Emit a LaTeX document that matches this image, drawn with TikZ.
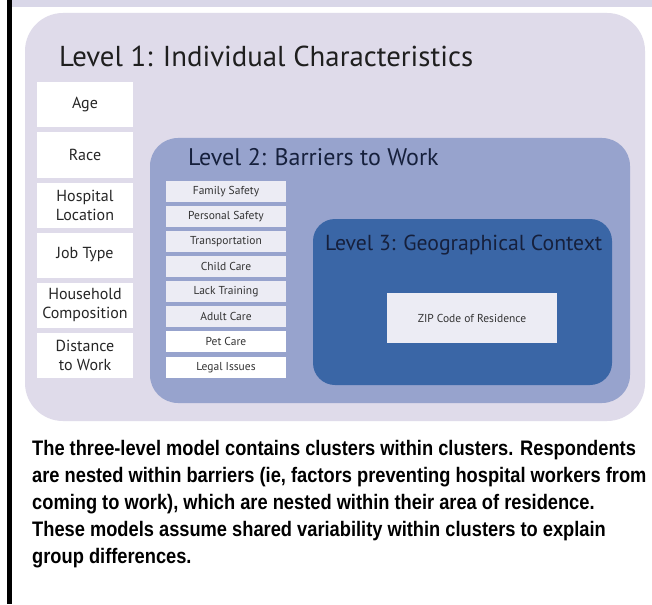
\documentclass[tikz,border=0pt]{standalone}
\usepackage{fontspec}
\setmainfont{PT Sans}
\newfontfamily\capfont[FakeStretch=0.87]{Liberation Sans}
\usetikzlibrary{positioning}
\definecolor{band}{RGB}{217,215,232}
\definecolor{lvlone}{RGB}{223,219,234}
\definecolor{lvltwo}{RGB}{151,163,205}
\definecolor{lvlthree}{RGB}{58,102,166}
\definecolor{itemfill}{RGB}{236,236,244}
\definecolor{navy}{RGB}{22,32,60}
\tikzstyle{title}=[anchor=base west, inner sep=0]
\tikzstyle{charbox}=[rectangle, fill=white, minimum width=96pt, minimum height=45pt, inner sep=0, align=center, text=black!85, font=\fontsize{16}{19}\selectfont]
\tikzstyle{barbox}=[rectangle, fill=itemfill, minimum width=120pt, minimum height=21pt, inner sep=0, text=black!80, font=\fontsize{11.5}{13}\selectfont]
\begin{document}
\begin{tikzpicture}[x=1pt,y=-1pt]
\useasboundingbox (0,0) rectangle (652,604);
\fill[white] (0,0) rectangle (652,604);
\fill[band] (12,0) rectangle (652,7);
\fill[black] (7,0) rectangle (12,604);

% level 1
\fill[lvlone, rounded corners=38pt] (25,13) rectangle (645,421);
\node[title, text=black!88, font=\fontsize{28.8}{31}\selectfont] (t1) at (59,67) {Level 1: Individual Characteristics};
\foreach \txt [count=\i] in {Age, Race, Hospital\\Location, Job Type, Household\\Composition, Distance\\to Work}
  \node[charbox] (char\i) at (85,{105+50*(\i-1)}) {\txt};

% level 2
\fill[lvltwo, rounded corners=28pt] (150,138) rectangle (630,403);
\node[title, text=navy, font=\fontsize{24}{26}\selectfont] (t2) at (188,165) {Level 2: Barriers to Work};
\foreach \txt [count=\i] in {Family Safety, Personal Safety, Transportation, Child Care, Lack Training, Adult Care}
  \node[barbox] (bar\i) at (226,{191.5+25*(\i-1)}) {\txt};
\node[barbox, fill=white, below=4pt of bar6] (bar7) {Pet Care};
\node[barbox, fill=white, below=4pt of bar7] (bar8) {Legal Issues};

% level 3
\fill[lvlthree, rounded corners=22pt] (313,219) rectangle (612,385);
\node[title, text=navy, font=\fontsize{21.7}{24}\selectfont] (t3) at (325,250) {Level 3: Geographical Context};
\node[barbox, minimum width=170pt, minimum height=50pt] (zip) at (472,318) {ZIP Code of Residence};

% caption
\node[anchor=base west, inner sep=0, align=left, font=\capfont\bfseries\fontsize{21}{27}\selectfont] (cap) at (32,563)
  {The three-level model contains clusters within clusters. Respondents\\
   are nested within barriers (ie, factors preventing hospital workers from\\
   coming to work), which are nested within their area of residence.\\
   These models assume shared variability within clusters to explain\\
   group differences.};
\end{tikzpicture}
\end{document}
